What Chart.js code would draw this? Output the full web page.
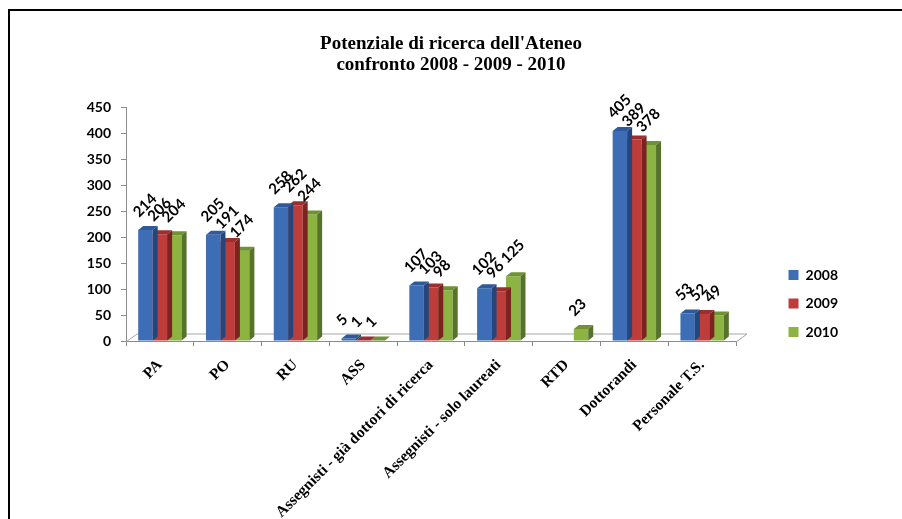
<!DOCTYPE html>
<html>
<head>
<meta charset="utf-8">
<script src="https://cdn.jsdelivr.net/npm/chart.js@4/dist/chart.umd.min.js"></script>
<style>
  html, body { margin: 0; padding: 0; background: #fff; }
  #wrap { position: relative; width: 902px; height: 519px; }
  #frame { position: absolute; left: 8px; top: 9px; right: 0; bottom: 0; border-left: 2px solid #000; border-top: 2px solid #000; pointer-events: none; }
</style>
</head>
<body>
<div id="wrap">
  <canvas id="c" width="902" height="519"></canvas>
  <div id="frame"></div>
</div>
<script>
const categories = ['PA', 'PO', 'RU', 'ASS', 'Assegnisti - già dottori di ricerca', 'Assegnisti - solo laureati', 'RTD', 'Dottorandi', 'Personale T.S.'];
const seriesNames = ['2008', '2009', '2010'];
const values2008 = [214, 205, 258, 5, 107, 102, null, 405, 53];
const values2009 = [206, 191, 262, 1, 103, 96, null, 389, 52];
const values2010 = [204, 174, 244, 1, 98, 125, 23, 378, 49];
const yMin = 0, yMax = 450, yStep = 50;
const titleLines = ["Potenziale di ricerca dell'Ateneo", 'confronto 2008 - 2009 - 2010'];

const frontColors = ['#3d6db5', '#be3d3b', '#8db443'];
const topColors = ['#2f5a99', '#9c2f2e', '#6f9232'];
const sideColors = ['#24467a', '#7c2322', '#55732a'];
const DX = 5, DY = 4;

const bar3d = {
  id: 'bar3d',
  beforeDatasetsDraw(chart) {
    const { ctx, chartArea } = chart;
    const y0 = chart.scales.y.getPixelForValue(0);
    ctx.save();
    ctx.strokeStyle = '#a6a6a6';
    ctx.lineWidth = 1;
    ctx.beginPath();
    ctx.moveTo(chartArea.left, y0 + 1);
    ctx.lineTo(chartArea.left + 11, y0 - 7);
    ctx.lineTo(chartArea.right + 11, y0 - 7);
    ctx.lineTo(chartArea.right, y0 + 1);
    ctx.stroke();
    ctx.restore();
  },
  afterDatasetDraw(chart, args) {
    const { ctx } = chart;
    const i = args.index;
    const meta = args.meta;
    ctx.save();
    meta.data.forEach((bar, j) => {
      const v = chart.data.datasets[i].data[j];
      if (v == null) return;
      const x0 = bar.x - bar.width / 2, x1 = bar.x + bar.width / 2;
      const yt = bar.y, yb = bar.base;
      ctx.fillStyle = topColors[i];
      ctx.beginPath();
      ctx.moveTo(x0, yt); ctx.lineTo(x1, yt); ctx.lineTo(x1 + DX, yt - DY); ctx.lineTo(x0 + DX, yt - DY);
      ctx.closePath(); ctx.fill();
      ctx.fillStyle = sideColors[i];
      ctx.beginPath();
      ctx.moveTo(x1, yt); ctx.lineTo(x1 + DX, yt - DY); ctx.lineTo(x1 + DX, yb - DY); ctx.lineTo(x1, yb);
      ctx.closePath(); ctx.fill();
    });
    ctx.restore();
  },
  afterDatasetsDraw(chart) {
    const { ctx } = chart;
    ctx.save();
    ctx.font = 'bold 15px Lato, "Open Sans", sans-serif';
    ctx.fillStyle = '#000';
    ctx.textAlign = 'left';
    ctx.textBaseline = 'alphabetic';
    chart.data.datasets.forEach((ds, i) => {
      const meta = chart.getDatasetMeta(i);
      meta.data.forEach((bar, j) => {
        const v = ds.data[j];
        if (v == null) return;
        const left = bar.x - bar.width / 2;
        ctx.save();
        ctx.translate(left + 1, bar.y - 12);
        ctx.rotate(-Math.PI / 4);
        ctx.fillText(String(v), 0, 0);
        ctx.restore();
      });
    });
    ctx.restore();
  }
};

new Chart(document.getElementById('c'), {
  type: 'bar',
  data: {
    labels: categories,
    datasets: [
      { label: seriesNames[0], data: values2008, backgroundColor: frontColors[0] },
      { label: seriesNames[1], data: values2009, backgroundColor: frontColors[1] },
      { label: seriesNames[2], data: values2010, backgroundColor: frontColors[2] }
    ]
  },
  options: {
    responsive: false,
    animation: false,
    layout: { padding: { left: 54, right: 54, top: 0, bottom: 0 } },
    datasets: { bar: { categoryPercentage: 0.64, barPercentage: 1.0 } },
    plugins: {
      title: {
        display: true,
        text: titleLines,
        color: '#000',
        font: { family: '"Liberation Serif", "Times New Roman", serif', size: 19, weight: 'bold', lineHeight: 1.1 },
        padding: { top: 34, bottom: 32 }
      },
      legend: {
        position: 'right',
        align: 'start',
        fullSize: true,
        title: { display: true, text: '', font: { size: 10, lineHeight: 1 }, padding: { top: 243.5, bottom: 0 } },
        labels: {
          boxWidth: 10, boxHeight: 10, padding: 14.5, color: '#000',
          font: { family: 'Lato, "Open Sans", sans-serif', size: 14, weight: 'bold' }
        }
      },
      tooltip: { enabled: false }
    },
    scales: {
      x: {
        grid: { display: true, offset: true, drawOnChartArea: false, drawTicks: true, tickLength: 5, color: '#8c8c8c' },
        border: { color: '#8c8c8c' },
        ticks: {
          maxRotation: 45, minRotation: 45, autoSkip: false, color: '#000', padding: 10,
          font: { family: '"Liberation Serif", "Times New Roman", serif', size: 15.5, weight: 'bold' }
        },
        afterFit(s) { s.height = 178; }
      },
      y: {
        min: yMin, max: yMax,
        grid: { display: true, drawOnChartArea: false, drawTicks: true, tickLength: 5, color: '#8c8c8c' },
        border: { color: '#8c8c8c' },
        ticks: {
          stepSize: yStep, color: '#000', padding: 10,
          font: { family: 'Lato, "Open Sans", sans-serif', size: 14, weight: 'bold' }
        },
        afterFit(s) { s.width = 72; }
      },
      yRight: {
        position: 'right', display: true, min: yMin, max: yMax,
        grid: { display: false }, border: { display: false }, ticks: { display: false },
        afterFit(s) { s.width = 38; }
      }
    }
  },
  plugins: [bar3d]
});
</script>
</body>
</html>
